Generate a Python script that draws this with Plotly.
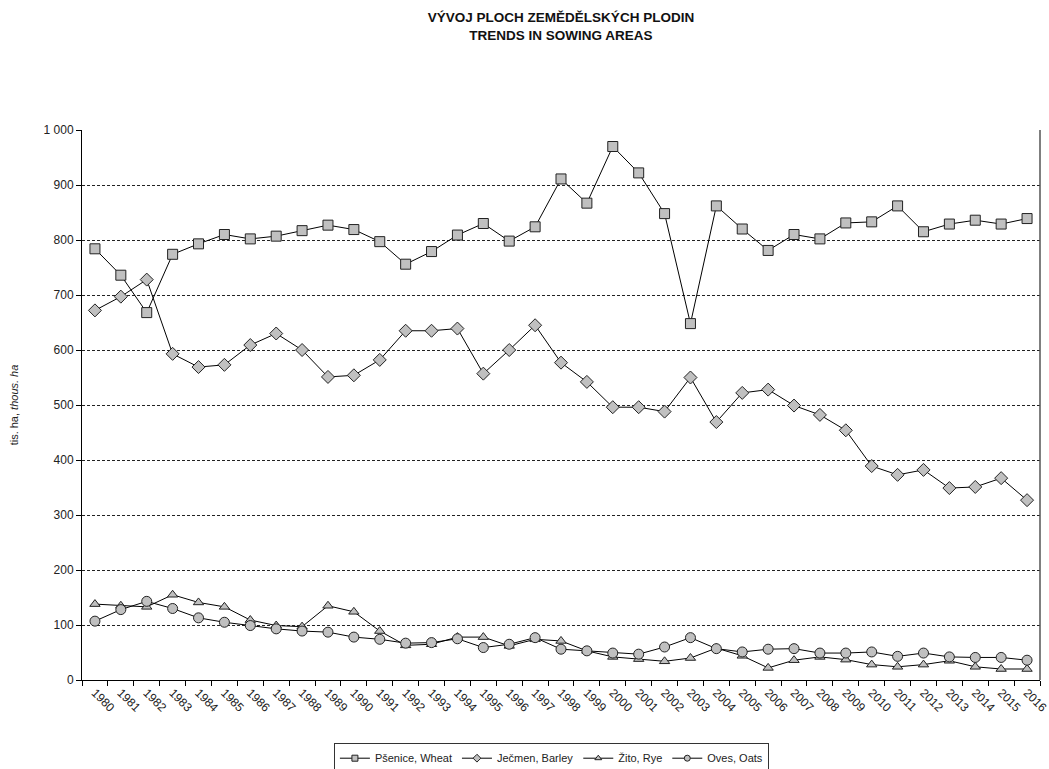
import plotly.graph_objects as go

years = [str(y) for y in range(1980, 2017)]

wheat = [784, 736, 668, 774, 793, 810, 802, 807, 817, 827, 819, 797, 756, 779, 809, 830, 798, 824,
         911, 867, 970, 922, 848, 648, 862, 820, 781, 810, 802, 831, 833, 862, 815, 829, 836, 829, 839]
barley = [672, 697, 728, 593, 569, 573, 609, 630, 600, 551, 554, 582, 635, 635, 639, 557, 600, 645,
          577, 542, 496, 496, 488, 550, 469, 522, 528, 499, 482, 454, 389, 373, 382, 349, 351, 367, 327]
rye = [138, 135, 133, 155, 141, 133, 109, 99, 97, 135, 124, 89, 63, 65, 78, 78, 62, 74,
       71, 53, 42, 38, 34, 40, 58, 44, 22, 36, 42, 37, 28, 24, 28, 35, 24, 20, 20]
oats = [107, 128, 143, 130, 113, 105, 99, 93, 89, 87, 78, 74, 67, 68, 75, 59, 65, 77,
        56, 53, 49, 47, 60, 77, 57, 51, 56, 57, 49, 49, 51, 43, 49, 42, 41, 41, 36]

series = [
    ("Pšenice, Wheat", wheat, "square", 10),
    ("Ječmen, Barley", barley, "diamond", 10),
    ("Žito, Rye", rye, "triangle-up", 9),
    ("Oves, Oats", oats, "circle", 10),
]

y_ticks = [0, 100, 200, 300, 400, 500, 600, 700, 800, 900, 1000]
y_labels = ["0", "100", "200", "300", "400", "500", "600", "700", "800", "900", "1 000"]

fig = go.Figure()
for name, vals, sym, sz in series:
    fig.add_trace(go.Scatter(
        x=years, y=vals, name=name, mode="lines+markers", showlegend=False,
        line=dict(color="black", width=1),
        marker=dict(symbol=sym, size=sz, color="#c0c0c0",
                    line=dict(color="#222222", width=1)),
    ))
# legend entries with small symbols (as in the reference legend)
for name, vals, sym, sz in series:
    fig.add_trace(go.Scatter(
        x=[None], y=[None], name=name, mode="lines+markers", showlegend=True,
        line=dict(color="black", width=1),
        marker=dict(symbol=sym, size=6, color="#c0c0c0",
                    line=dict(color="#222222", width=1)),
    ))

fig.update_layout(
    width=1049, height=769,
    margin=dict(l=82, r=9, t=130, b=89, autoexpand=False),
    paper_bgcolor="white", plot_bgcolor="white",
    font=dict(family="Arial, Liberation Sans, sans-serif", size=12, color="#222222"),
    title=dict(
        text="<b>VÝVOJ PLOCH ZEMĚDĚLSKÝCH PLODIN<br>TRENDS IN SOWING AREAS</b>",
        x=0.5, xref="paper", xanchor="center",
        y=1 - 22 / 769, yref="container", yanchor="middle",
        font=dict(size=13.5, color="#111111"),
    ),
    showlegend=True,
    legend=dict(
        orientation="h", x=0.49, xanchor="center", y=-0.114, yanchor="top",
        bordercolor="#333333", borderwidth=1, bgcolor="white",
        font=dict(size=11, color="#222222"),
        itemwidth=30, tracegroupgap=0,
    ),
)

fig.update_xaxes(
    type="category", tickangle=45, tickson="boundaries",
    ticks="outside", ticklen=5, tickcolor="black",
    showline=True, linecolor="black", linewidth=1,
    showgrid=False, tickfont=dict(size=12, color="#222222"),
    range=[-0.5, 36.5], automargin=False,
)
fig.update_yaxes(
    range=[0, 1000], tickvals=y_ticks, ticktext=y_labels,
    ticks="outside", ticklen=5, tickcolor="black",
    showline=True, linecolor="black", linewidth=1,
    showgrid=True, gridcolor="#222222", gridwidth=1, griddash="3px,2px",
    zeroline=False, automargin=False,
    title=dict(text="tis. ha, <i>thous. ha</i>", standoff=22, font=dict(size=11)),
)

fig.add_shape(type="line", xref="paper", yref="paper", x0=1, x1=1, y0=0, y1=1,
              line=dict(color="#555555", width=1.5))

fig.write_html("out.html")
